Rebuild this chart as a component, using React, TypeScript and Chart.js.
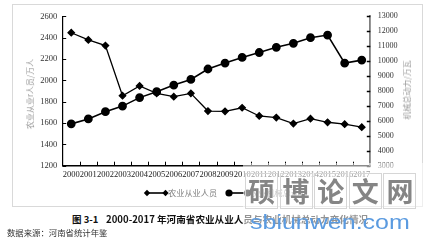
import React, { useEffect, useRef } from "react";
import { Chart, registerables } from "chart.js";

Chart.register(...registerables);

const years = ["2000", "2001", "2002", "2003", "2004", "2005", "2006", "2007", "2008", "2009", "2010", "2011", "2012", "2013", "2014", "2015", "2016", "2017"];
const workers = [2446, 2379, 2326, 1856, 1948, 1878, 1847, 1878, 1712, 1710, 1743, 1666, 1651, 1595, 1641, 1607, 1589, 1561];
const machinery = [5800, 6131, 6613, 6989, 7557, 7954, 8396, 8773, 9473, 9869, 10246, 10576, 10926, 11190, 11567, 11745, 9869, 10067];
const seriesNames = ["农业从业人员", "农业机械总动力"];
const leftTitle = "农业从业r人员/万人";
const rightTitle = "机械总动力/万瓦";
const captionNo = "图 3-1";
const captionText = "2000-2017 年河南省农业从业人员与农业机械总动力变化情况";
const sourceText = "数据来源：河南省统计年鉴";
const watermarkChars = ["硕", "博", "论", "文", "网"];
const watermarkUrl = "sbiunwen.com";

const SERIF = '"Liberation Serif", "DejaVu Serif", serif';
const CJK = '"Noto Sans CJK SC", sans-serif';

function drawMarker(ctx: CanvasRenderingContext2D, style: string, x: number, y: number, r: number) {
  ctx.beginPath();
  if (style === "rectRot") {
    ctx.moveTo(x, y - r);
    ctx.lineTo(x + r, y);
    ctx.lineTo(x, y + r);
    ctx.lineTo(x - r, y);
    ctx.closePath();
  } else {
    ctx.arc(x, y, r, 0, Math.PI * 2);
  }
  ctx.fill();
}

const tickPlugin = {
  id: "innerTicks",
  afterDraw(chart: any) {
    const { ctx, chartArea } = chart;
    const { left, right, bottom } = chartArea;
    ctx.save();
    ctx.strokeStyle = "#000";
    ctx.lineWidth = 1;
    const n = chart.data.labels.length;
    const w = (right - left) / n;
    for (let i = 1; i < n; i++) {
      const x = Math.round(left + i * w) + 0.5;
      ctx.beginPath();
      ctx.moveTo(x, bottom);
      ctx.lineTo(x, bottom - 4);
      ctx.stroke();
    }
    const yl = chart.scales.y;
    yl.ticks.forEach((t: any) => {
      const y = Math.round(yl.getPixelForValue(t.value)) + 0.5;
      ctx.beginPath();
      ctx.moveTo(left, y);
      ctx.lineTo(left + 3.5, y);
      ctx.stroke();
    });
    const yr = chart.scales.y1;
    ctx.lineWidth = 1.5;
    yr.ticks.forEach((t: any) => {
      const y = Math.round(yr.getPixelForValue(t.value)) + 0.5;
      ctx.beginPath();
      ctx.moveTo(right - 3.5, y);
      ctx.lineTo(right, y);
      ctx.stroke();
    });
    ctx.restore();
  },
};

const legendPlugin = {
  id: "lineLegend",
  afterDraw(chart: any) {
    const ctx = chart.ctx;
    const starts = [135, 217];
    const y = 189;
    ctx.save();
    chart.data.datasets.forEach((ds: any, i: number) => {
      const x0 = starts[i];
      const x1 = x0 + 18.5;
      ctx.strokeStyle = ds.borderColor;
      ctx.fillStyle = ds.pointBackgroundColor;
      ctx.lineWidth = 1.6;
      ctx.beginPath();
      ctx.moveTo(x0, y);
      ctx.lineTo(x1, y);
      ctx.stroke();
      drawMarker(ctx, ds.pointStyle, x0, y, ds.pointRadius);
      drawMarker(ctx, ds.pointStyle, x1, y, ds.pointRadius);
      ctx.fillStyle = "#808080";
      ctx.font = `8.2px ${CJK}`;
      ctx.textBaseline = "middle";
      ctx.textAlign = "left";
      ctx.fillText(ds.label, x1 + 2.5, y);
    });
    ctx.restore();
  },
};

function ChartBox() {
  const ref = useRef<HTMLCanvasElement | null>(null);
  useEffect(() => {
    if (!ref.current) return;
    const tickFont = { family: SERIF, size: 8.5 };
    const plain = (v: any) => String(v);
    const chart = new Chart(ref.current, {
      type: "line",
      data: {
        labels: years,
        datasets: [
          {
            label: seriesNames[0],
            data: workers,
            yAxisID: "y",
            borderColor: "#000",
            backgroundColor: "#000",
            pointBackgroundColor: "#000",
            pointBorderColor: "#000",
            pointStyle: "rectRot",
            pointRadius: 3.2,
            borderWidth: 1.3,
            tension: 0,
          },
          {
            label: seriesNames[1],
            data: machinery,
            yAxisID: "y1",
            borderColor: "#000",
            backgroundColor: "#000",
            pointBackgroundColor: "#000",
            pointBorderColor: "#000",
            pointStyle: "circle",
            pointRadius: 3.6,
            borderWidth: 1.6,
            tension: 0,
          },
        ],
      },
      options: {
        animation: false,
        responsive: false,
        maintainAspectRatio: false,
        layout: { padding: { top: 10.3, left: 0, right: 0, bottom: 0 } },
        plugins: { legend: { display: false }, title: { display: false }, tooltip: { enabled: false } },
        scales: {
          x: {
            type: "category",
            offset: true,
            grid: { display: false, drawTicks: false },
            border: { display: true, color: "#000", width: 1.6 },
            ticks: { autoSkip: false, maxRotation: 0, minRotation: 0, padding: 4, color: "#222", font: tickFont },
            afterFit: (s: any) => { s.height = 41.3; },
          },
          y: {
            position: "left",
            min: 1200,
            max: 2600,
            grid: { display: false, drawTicks: false },
            border: { display: true, color: "#000", width: 1.2 },
            ticks: { stepSize: 200, padding: 5.5, color: "#333", font: tickFont, callback: plain },
            afterFit: (s: any) => { s.width = 50.7; },
          },
          y1: {
            position: "right",
            min: 3000,
            max: 13000,
            grid: { display: false, drawTicks: false },
            border: { display: true, color: "#7f7f7f", width: 1.8 },
            ticks: { stepSize: 1000, padding: 7.5, color: "#333", font: { family: SERIF, size: 8 }, callback: plain },
            afterFit: (s: any) => { s.width = 52.7; },
          },
        },
      },
      plugins: [tickPlugin, legendPlugin],
    } as any);
    return () => chart.destroy();
  }, []);
  return (
    <canvas
      ref={ref}
      width={411}
      height={203}
      style={{ position: "absolute", left: 12, top: 4, width: 411, height: 203 }}
    />
  );
}

export default function App() {
  return (
    <div style={{ position: "absolute", left: 0, top: 0, width: 433, height: 243, background: "#fff", overflow: "hidden" }}>
      <div style={{ position: "absolute", left: 12, top: 4, width: 411, height: 203, boxSizing: "border-box", border: "1px solid #d9d9d9" }} />
      <ChartBox />
      <div style={{ position: "absolute", left: 30, top: 94, transform: "translate(-50%, -50%) rotate(-90deg)", whiteSpace: "nowrap", fontFamily: CJK, fontSize: 8, color: "#9a9a9a", lineHeight: 1 }}>{leftTitle}</div>
      <div style={{ position: "absolute", left: 407, top: 90, transform: "translate(-50%, -50%) rotate(-90deg)", whiteSpace: "nowrap", fontFamily: CJK, fontSize: 8, color: "#9a9a9a", lineHeight: 1 }}>{rightTitle}</div>
      <div style={{ position: "absolute", left: 72, top: 213, whiteSpace: "nowrap", fontFamily: CJK, fontWeight: 700, fontSize: 9.5, color: "#111", lineHeight: "12px" }}>{captionNo}</div>
      <div style={{ position: "absolute", left: 106, top: 213, whiteSpace: "nowrap", fontFamily: CJK, fontWeight: 700, fontSize: 9.6, color: "#111", lineHeight: "12px" }}>{captionText}</div>
      <div style={{ position: "absolute", left: 7, top: 227, whiteSpace: "nowrap", fontFamily: CJK, fontSize: 8.4, color: "#333", lineHeight: "11px" }}>{sourceText}</div>
      <div style={{ position: "absolute", left: 243, top: 163, width: 182, height: 78, background: "rgba(255,255,255,0.55)" }} />
      {watermarkChars.map((c, i) => (
        <div key={i} style={{ position: "absolute", left: 245 + i * 34.6, top: 173, width: 33, height: 36, boxSizing: "border-box", border: "1px solid #d6d6d6", fontFamily: CJK, fontWeight: 700, fontSize: 27, color: "#858585", lineHeight: "34px", textAlign: "center" }}>{c}</div>
      ))}
      <div style={{ position: "absolute", left: 250, top: 212, whiteSpace: "nowrap", fontFamily: '"Liberation Sans", sans-serif', fontSize: 20, color: "#5b9be0", lineHeight: "20px", transform: "scaleX(1.25)", transformOrigin: "left center" }}>{watermarkUrl}</div>
    </div>
  );
}
